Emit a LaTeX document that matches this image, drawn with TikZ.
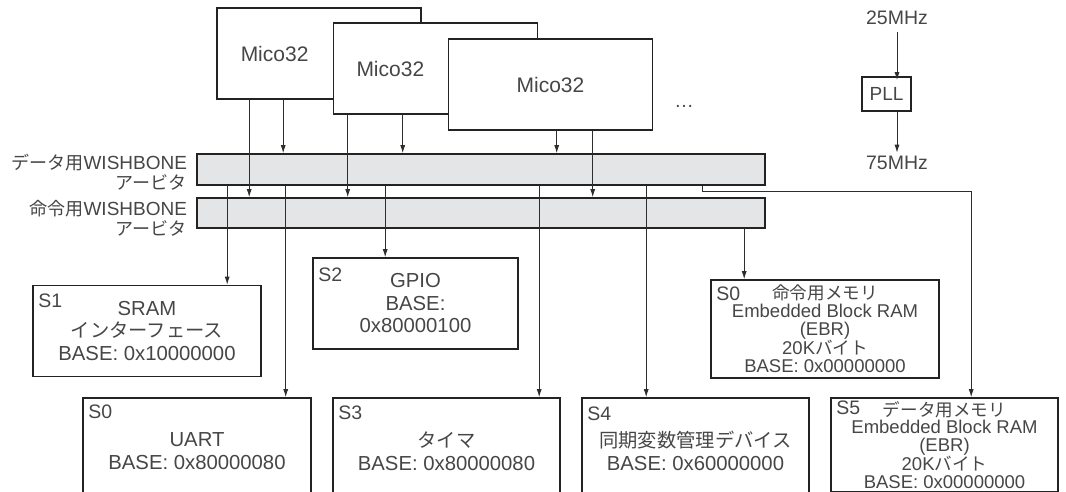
\documentclass[tikz,border=0pt]{standalone}
\usepackage{fontspec}
\setmainfont{Liberation Sans}
\newfontfamily\jp[Scale=0.95]{Noto Sans CJK JP}
\usetikzlibrary{positioning,arrows.meta,calc}
\definecolor{wbInk}{RGB}{35,35,35}
\definecolor{wbText}{RGB}{70,70,70}
\definecolor{wbLine}{RGB}{45,45,45}
\definecolor{wbBus}{RGB}{228,229,231}

\begin{document}
\begin{tikzpicture}[x=1pt,y=-1pt,
      cpu/.style={draw=wbInk,fill=white,line width=1.6pt,minimum width=204pt,minimum height=91pt,inner sep=0pt},
      cpulbl/.style={text=wbText,font=\fontsize{21}{22}\selectfont},
      bus/.style={draw=wbInk,fill=wbBus,line width=1.6pt,minimum width=568pt,minimum height=30pt,inner sep=0pt},
      buslbl/.style={text=wbText,align=right,anchor=east,inner sep=0pt,font=\fontsize{19}{20}\selectfont},
      dev/.style={draw=wbInk,line width=1.6pt,minimum width=228pt,align=center,inner sep=0pt,text=wbText,font=\fontsize{20.3}{22.5}\selectfont},
      mem/.style={dev,font=\fontsize{18.5}{17.8}\selectfont},
      slot/.style={anchor=north west,inner sep=0pt,text=wbText,font=\fontsize{19.5}{19}\selectfont},
      freq/.style={text=wbText,font=\fontsize{19.5}{20}\selectfont},
      arr/.style={-{Latex[length=8pt,width=5pt]},draw=wbLine,line width=0.9pt}]
    \clip (0,0) rectangle (1066,492);
    % Mico32 cores, each one over the previous
    \node[cpu] (cpuA) at (319,53.5) {};
    \node[cpulbl] (tA) at ($(cpuA.west)!0.5!(cpuA.west -| 333,0)$) {Mico32};
    \node[cpu] (cpuB) at (435.5,68.5) {};
    \node[cpulbl] (tB) at ($(cpuB.west)!0.5!(cpuB.west -| 448,0)$) {Mico32};
    \node[cpu] (cpuC) at (550.5,84.5) {};
    \node[cpulbl] (tC) at (cpuC) {Mico32};
    \node[freq] (more) at (684,106) {…};
    % arbiters
    \node[bus,minimum height=31pt] (dbus) at (481,169.5) {};
    \node[bus] (ibus) at (481,213) {};
    \node[buslbl] (dlbl) at ([xshift=-9pt,yshift=-3pt]dbus.west) {{\jp データ用}WISHBONE\\{\jp アービタ}};
    \node[buslbl] (ilbl) at ([xshift=-9pt,yshift=-5pt]ibus.west) {{\jp 命令用}WISHBONE\\{\jp アービタ}};
    % slaves
    \node[dev,minimum height=91pt] (sram) at (147,331) {SRAM\\{\jp インターフェース}\\BASE: 0x10000000};
    \node[dev,minimum width=205pt,minimum height=91pt] (gpio) at (415.5,303.5) {GPIO\\BASE:\\0x80000100};
    \node[dev,minimum height=106pt] (uart) at (197,451) {UART\\BASE: 0x80000080};
    \node[dev,minimum width=227pt,minimum height=106pt] (timer) at (446.5,451) {{\jp タイマ}\\BASE: 0x80000080};
    \node[dev,minimum width=227pt,minimum height=106pt] (sync) at (695.5,451) {{\jp 同期変数管理デバイス}\\BASE: 0x60000000};
    \node[mem,minimum height=98pt] (imem) at (825,329) {{\jp 命令用メモリ}\\Embedded Block RAM\\(EBR)\\20K{\jp バイト}\\BASE: 0x00000000};
    \node[mem,minimum width=227pt,minimum height=94pt] (dmem) at (944.5,445) {{\jp データ用メモリ}\\Embedded Block RAM\\(EBR)\\20K{\jp バイト}\\BASE: 0x00000000};
    \node[slot] (s1) at ([shift={(6pt,-9pt)}]sram.north west) {S1};
    \node[slot] (s2) at ([shift={(6pt,-10pt)}]gpio.north west) {S2};
    \node[slot] (s0u) at ([shift={(6pt,-7pt)}]uart.north west) {S0};
    \node[slot] (s3) at ([shift={(6pt,-8pt)}]timer.north west) {S3};
    \node[slot] (s4) at ([shift={(6pt,-9pt)}]sync.north west) {S4};
    \node[slot] (s0m) at ([shift={(6pt,-7pt)}]imem.north west) {S0};
    \node[slot] (s5) at ([shift={(6pt,-3pt)}]dmem.north west) {S5};
    % clock
    \node[freq] (f25) at (897,18) {25MHz};
    \node[dev,minimum width=49pt,minimum height=34pt,font=\fontsize{19}{20}\selectfont] (pll) at (886.5,94) {PLL};
    \node[freq] (f75) at (897,163) {75MHz};
    \draw[arr] ([yshift=-4pt]f25.south) -- ([yshift=-4pt]f25.south |- pll.north);
    \draw[arr] (pll.south -| f75) -- (f75.north);
    % cores to arbiters
    \draw[arr] ([xshift=33pt]cpuA.south west) -- ([xshift=33pt]cpuA.south west |- ibus.north);
    \draw[arr] ([xshift=67pt]cpuA.south west) -- ([xshift=67pt]cpuA.south west |- dbus.north);
    \draw[arr] ([xshift=15pt]cpuB.south west) -- ([xshift=15pt]cpuB.south west |- ibus.north);
    \draw[arr] ([xshift=70pt]cpuB.south west) -- ([xshift=70pt]cpuB.south west |- dbus.north);
    \draw[arr] ([xshift=109pt]cpuC.south west) -- ([xshift=109pt]cpuC.south west |- dbus.north);
    \draw[arr] ([xshift=145pt]cpuC.south west) -- ([xshift=145pt]cpuC.south west |- ibus.north);
    % arbiters to slaves
    \draw[arr] ([xshift=31pt]dbus.south west) -- ([xshift=31pt]dbus.south west |- sram.north);
    \draw[arr] ([xshift=89.5pt]dbus.south west) -- ([xshift=89.5pt]dbus.south west |- uart.north);
    \draw[arr] ([xshift=189pt]dbus.south west) -- ([xshift=189pt]dbus.south west |- gpio.north);
    \draw[arr] ([xshift=343pt]dbus.south west) -- ([xshift=343pt]dbus.south west |- timer.north);
    \draw[arr] ([xshift=450pt]dbus.south west) -- ([xshift=450pt]dbus.south west |- sync.north);
    \draw[arr] ([xshift=506.5pt]dbus.south west) -- ++(0,6) -| ([xshift=141pt]dmem.north west);
    \draw[arr] ([xshift=548pt]ibus.south west) -- ([xshift=548pt]ibus.south west |- imem.north);
  \end{tikzpicture}
\end{document}
